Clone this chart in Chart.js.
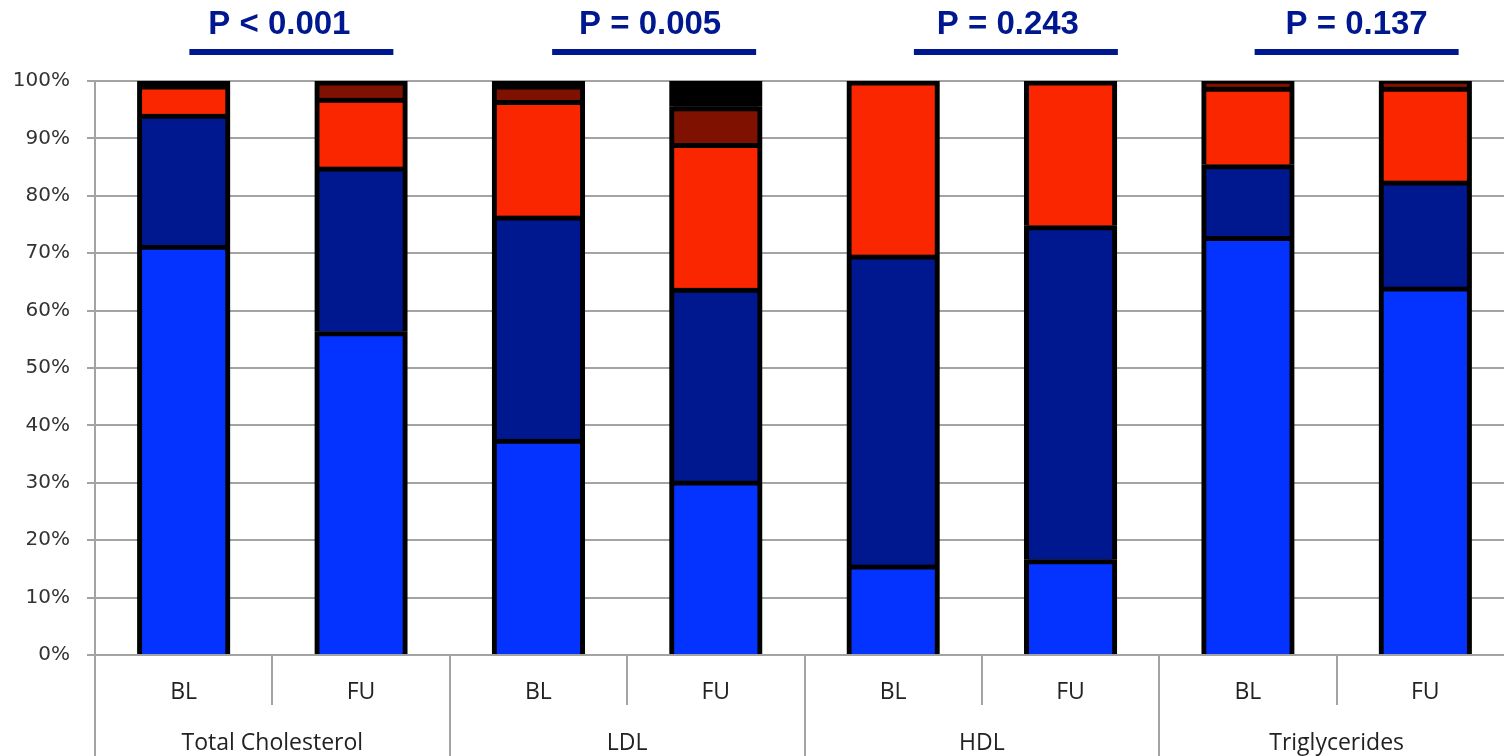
<!DOCTYPE html>
<html>
<head>
<meta charset="utf-8">
<script src="https://cdn.jsdelivr.net/npm/chart.js@4"></script>
<style>
html,body{margin:0;padding:0;background:#fff;overflow:hidden;}
#wrap{position:absolute;left:0;top:0;width:1514px;height:756px;}
</style>
</head>
<body>
<div id="wrap"><canvas id="c"></canvas></div>
<script>
const categories = ['BL','FU','BL','FU','BL','FU','BL','FU'];
const groups = ['Total Cholesterol','LDL','HDL','Triglycerides'];
const pValues = ['P < 0.001','P = 0.005','P = 0.243','P = 0.137'];
const yTicks = [0,10,20,30,40,50,60,70,80,90,100];

const level1 = [71.4, 56.3, 37.6, 30.3, 15.7, 16.6, 72.9, 64.1];
const level2 = [22.8, 28.7, 38.9, 33.6, 54.0, 58.2, 12.5, 18.5];
const level3 = [5.1, 12.0, 20.1, 25.2, 30.3, 25.2, 13.5, 16.3];
const level4 = [0, 3.0, 2.7, 6.4, 0, 0, 1.1, 1.1];
const level5 = [0.7, 0, 0.7, 4.5, 0, 0, 0, 0];

const colors = ['#0433ff', '#00188f', '#f92600', '#7f1100', '#000000'];
const seriesList = [level1, level2, level3, level4, level5];

const GRID = '#a3a3a3';

const shadowPlugin = {
  id: 'barShadow',
  beforeDatasetsDraw(chart) {
    const ctx = chart.ctx;
    ctx.save();
    ctx.shadowColor = 'rgba(0,0,0,0.35)';
    ctx.shadowBlur = 4;
  },
  afterDatasetsDraw(chart) {
    chart.ctx.restore();
  }
};

const dividerPlugin = {
  id: 'dividers',
  afterDraw(chart) {
    const xs = chart.scales.x;
    const ctx = chart.ctx;
    const n = categories.length;
    const step = (xs.right - xs.left) / n;
    const bottom = chart.chartArea.bottom;
    ctx.save();
    ctx.strokeStyle = GRID;
    ctx.lineWidth = 2;
    for (let i = 0; i <= n; i++) {
      const x = Math.round(xs.left + i * step);
      const y2 = (i % 2 === 0) ? chart.height : bottom + 50;
      ctx.beginPath();
      ctx.moveTo(x, bottom);
      ctx.lineTo(x, y2);
      ctx.stroke();
    }
    ctx.restore();
  }
};

const pPlugin = {
  id: 'pvals',
  afterDraw(chart) {
    const xs = chart.scales.x;
    const ctx = chart.ctx;
    const textOff = [7, 23, 26, 20];
    const lineOff = [19, 27, 34, 20];
    ctx.save();
    ctx.fillStyle = '#00188f';
    ctx.strokeStyle = '#00188f';
    ctx.font = 'bold 33px "Liberation Sans", Arial, sans-serif';
    ctx.textAlign = 'center';
    ctx.textBaseline = 'alphabetic';
    ctx.lineWidth = 6;
    for (let g = 0; g < groups.length; g++) {
      const c = (xs.getPixelForValue(2 * g) + xs.getPixelForValue(2 * g + 1)) / 2;
      ctx.fillText(pValues[g], c + textOff[g], 34);
      ctx.beginPath();
      ctx.moveTo(c + lineOff[g] - 102, 52);
      ctx.lineTo(c + lineOff[g] + 102, 52);
      ctx.stroke();
    }
    ctx.restore();
  }
};

const labelFont = {family: '"Open Sans", sans-serif', size: 23};

new Chart(document.getElementById('c'), {
  type: 'bar',
  data: {
    labels: categories,
    datasets: seriesList.map((d, i) => ({
      label: 'S' + (i + 1),
      data: d,
      backgroundColor: colors[i],
      borderColor: '#000',
      borderWidth: {top: 5, left: 5, right: 5, bottom: 0},
      borderSkipped: 'start',
      inflateAmount: 0.5,
      barPercentage: 0.52,
      categoryPercentage: 1.0
    }))
  },
  options: {
    responsive: true,
    maintainAspectRatio: false,
    animation: false,
    layout: {padding: {top: 81, right: 0, left: 0, bottom: 0}},
    plugins: {legend: {display: false}, tooltip: {enabled: false}},
    scales: {
      x: {
        stacked: true,
        grid: {display: false},
        border: {display: false},
        ticks: {
          color: '#222',
          font: labelFont,
          padding: 16,
          maxRotation: 0, autoSkip: false
        },
        afterFit(s) { s.height = 50; }
      },
      x2: {
        type: 'category',
        labels: groups,
        position: 'bottom',
        grid: {display: false},
        border: {display: false},
        ticks: {
          color: '#222',
          font: labelFont,
          padding: 17,
          maxRotation: 0, autoSkip: false
        },
        afterFit(s) { s.height = 51; }
      },
      y: {
        stacked: true,
        min: 0, max: 100,
        afterBuildTicks(s) { s.ticks = yTicks.map(v => ({value: v})); },
        grid: {color: GRID, lineWidth: 2, tickLength: 8},
        border: {color: GRID, width: 2},
        ticks: {
          color: '#333',
          font: {family: '"DejaVu Sans", sans-serif', size: 20},
          padding: 17,
          callback: v => v + '%'
        },
        afterFit(s) { s.width = 95; }
      }
    }
  },
  plugins: [shadowPlugin, dividerPlugin, pPlugin]
});
</script>
</body>
</html>
